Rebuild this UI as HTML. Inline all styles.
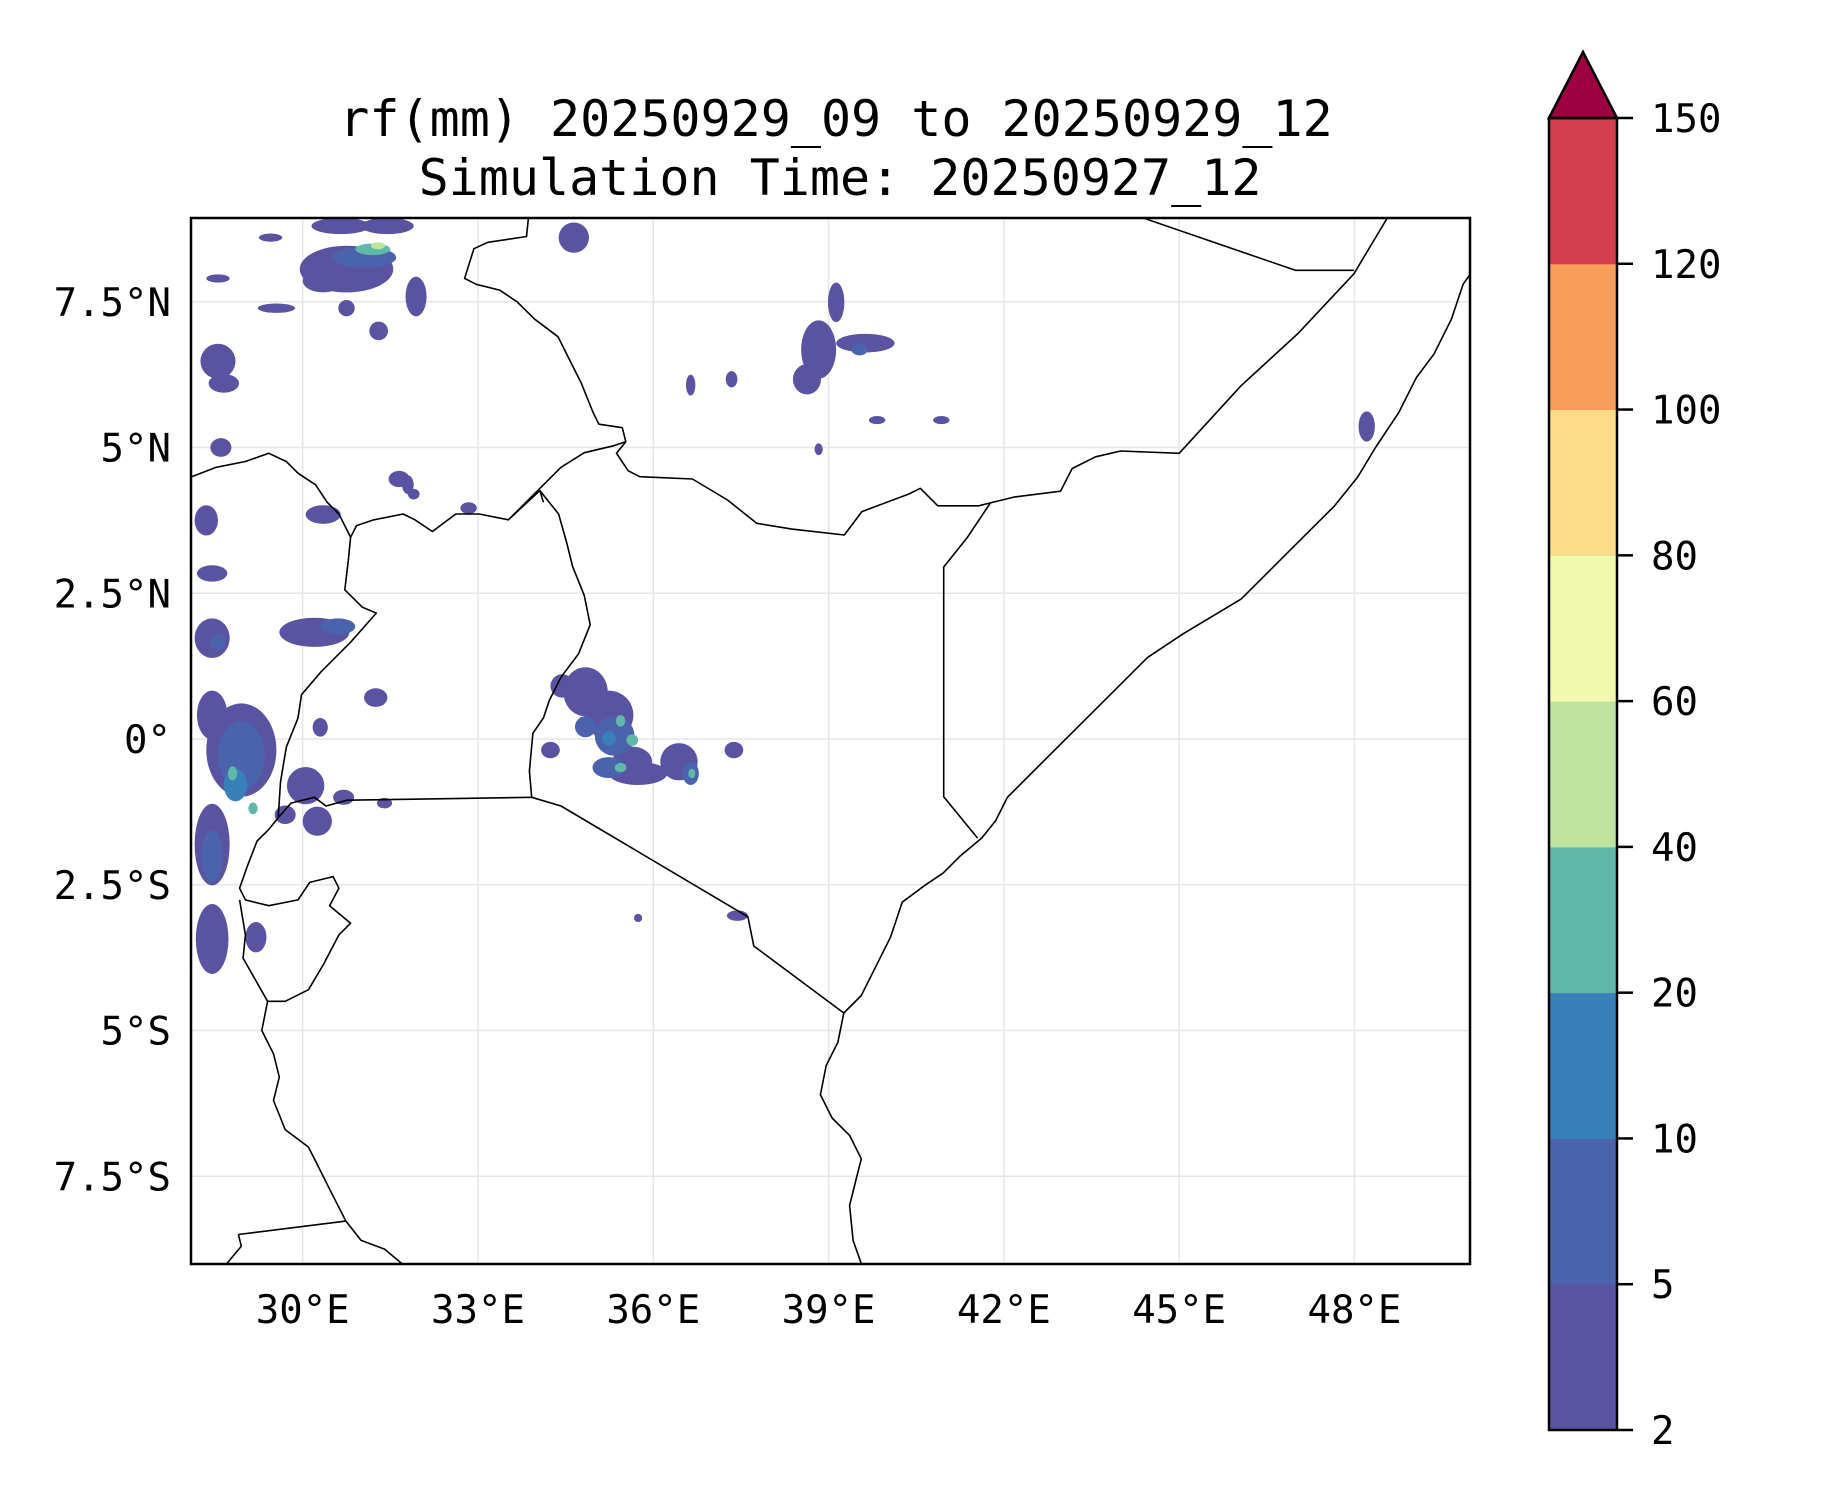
<!DOCTYPE html>
<html><head><meta charset="utf-8"><style>
html,body{margin:0;padding:0;background:#fff;}
svg{display:block;font-family:"DejaVu Sans Mono","Liberation Mono",monospace;}
</style></head><body>
<svg id="fig" width="1833" height="1500" viewBox="0 0 1833 1500" xmlns="http://www.w3.org/2000/svg">
<defs><clipPath id="axclip"><rect x="191" y="218" width="1279" height="1046"/></clipPath></defs>
<text x="836" y="136" font-size="50" text-anchor="middle">rf(mm) 20250929_09 to 20250929_12</text>
<text x="840" y="195" font-size="50" text-anchor="middle">Simulation Time: 20250927_12</text>
<g id="grid"></g>
<g id="rain" clip-path="url(#axclip)"></g>
<g id="borders" clip-path="url(#axclip)"></g>
<rect x="191" y="218" width="1279" height="1046" fill="none" stroke="#000" stroke-width="2.5"/>
<g id="xticks"></g>
<g id="yticks"></g>
<g id="cbar"></g>
</svg>
<script>
const lonTicks=[30,33,36,39,42,45,48];
const lonLabels=["30°E","33°E","36°E","39°E","42°E","45°E","48°E"];
const latTicks=[7.5,5,2.5,0,-2.5,-5,-7.5];
const latLabels=["7.5°N","5°N","2.5°N","0°","2.5°S","5°S","7.5°S"];
const levels=[2,5,10,20,40,60,80,100,120,150];
const levelColors=["#5a53a2","#4a63ac","#3880b9","#60b9a8","#bee4a0","#f1f9ae","#fcdc89","#f89e5a","#d53e4f"];
const extendColor="#9e0142";
// rainfall blobs: lon, lat, rx(deg), ry(deg), level index
const blobLon=[30.75,31.05,31.2,31.29,31.45,30.35,30.75,31.94,29.55,28.55,28.65,30.65,29.45,28.55,31.65,30.35,28.35,28.45,30.2,30.6,28.45,28.55,28.95,28.95,28.85,28.8,29.15,28.45,28.45,28.45,28.45,30.05,30.25,31.25,34.84,35.24,35.34,35.64,35.74,35.24,35.44,36.44,36.64,36.66,37.38,34.44,34.24,34.84,35.24,35.44,35.64,34.64,38.83,39.13,39.63,39.53,38.63,37.34,36.64,39.83,40.93,38.83,48.21,37.44,35.74,32.84,31.8,31.3,31.9,28.6,29.7,30.7,31.4,29.2,30.3];
const blobLat=[8.06,8.26,8.4,8.46,8.8,7.86,7.39,7.59,7.39,6.48,6.1,8.8,8.6,7.9,4.46,3.85,3.75,2.84,1.83,1.93,1.73,1.67,-0.19,-0.29,-0.79,-0.59,-1.19,0.41,-1.81,-2.01,-3.43,-0.8,-1.41,0.71,0.81,0.41,0.05,-0.39,-0.59,-0.49,-0.49,-0.39,-0.59,-0.59,-0.19,0.91,-0.19,0.21,0.01,0.31,-0.02,8.6,6.68,7.49,6.79,6.68,6.17,6.17,6.07,5.47,5.47,4.97,5.36,-3.03,-3.07,3.96,4.36,7.0,4.2,5.0,-1.3,-1.0,-1.1,-3.4,0.2];
const blobRx=[0.8,0.55,0.3,0.12,0.45,0.35,0.14,0.18,0.32,0.3,0.26,0.5,0.2,0.2,0.18,0.3,0.2,0.26,0.6,0.3,0.3,0.14,0.6,0.4,0.2,0.08,0.08,0.26,0.3,0.18,0.28,0.32,0.25,0.2,0.38,0.42,0.34,0.34,0.5,0.28,0.1,0.32,0.14,0.06,0.16,0.2,0.16,0.18,0.12,0.08,0.1,0.26,0.3,0.14,0.5,0.14,0.24,0.1,0.08,0.14,0.14,0.07,0.14,0.18,0.07,0.14,0.1,0.16,0.1,0.18,0.18,0.18,0.13,0.18,0.13];
const blobRy=[0.4,0.18,0.1,0.06,0.14,0.2,0.14,0.34,0.08,0.3,0.16,0.14,0.07,0.07,0.14,0.16,0.26,0.14,0.25,0.14,0.34,0.14,0.8,0.6,0.28,0.12,0.1,0.42,0.7,0.45,0.6,0.32,0.25,0.16,0.42,0.42,0.34,0.26,0.2,0.18,0.08,0.32,0.2,0.08,0.14,0.2,0.14,0.18,0.12,0.1,0.1,0.26,0.5,0.34,0.16,0.1,0.26,0.14,0.18,0.07,0.07,0.1,0.26,0.09,0.07,0.1,0.16,0.16,0.09,0.16,0.16,0.13,0.09,0.26,0.16];
const blobLevel=[0,1,3,4,0,0,0,0,0,0,0,0,0,0,0,0,0,0,0,1,0,1,0,1,2,3,3,0,0,1,0,0,0,0,0,0,1,0,0,1,3,0,1,3,0,0,0,1,2,3,3,0,0,0,0,1,0,0,0,0,0,0,0,0,0,0,0,0,0,0,0,0,0,0,0];
// coastline & border polylines in [lon,lat]
const lines=[
[[33.87,9.0],[33.83,8.62],[33.17,8.52],[32.93,8.41],[32.77,7.9],[32.97,7.8],[33.37,7.7],[33.67,7.5],[33.97,7.2],[34.37,6.9],[34.57,6.5],[34.77,6.1],[34.97,5.6],[35.07,5.4],[35.47,5.34],[35.53,5.1],[35.37,4.9],[35.57,4.6],[35.77,4.5],[36.67,4.46],[37.27,4.1],[37.77,3.7],[38.37,3.6],[39.27,3.5],[39.57,3.9],[40.37,4.2],[40.57,4.3],[40.87,4.0],[41.57,4.0],[41.77,4.05],[42.17,4.15],[42.97,4.25],[43.17,4.64],[43.57,4.84],[44.0,4.94],[45.0,4.9],[46.06,6.06],[47.05,6.97],[47.99,7.98],[48.6,9.0]],
[[44.2,9.0],[46.99,8.04],[47.99,8.04]],
[[50.0,8.0],[49.86,7.8],[49.66,7.2],[49.36,6.6],[49.06,6.2],[48.76,5.6],[48.36,5.0],[48.06,4.5],[47.66,4.0],[46.86,3.2],[46.06,2.4],[45.06,1.8],[44.46,1.4],[43.86,0.8],[43.26,0.2],[42.46,-0.6],[42.06,-1.0],[41.86,-1.4],[41.62,-1.7],[41.26,-2.0],[40.96,-2.3],[40.66,-2.5],[40.26,-2.8],[40.06,-3.4],[39.76,-4.0],[39.56,-4.4],[39.26,-4.7],[39.16,-5.2],[38.96,-5.6],[38.86,-6.1],[39.06,-6.5],[39.36,-6.8],[39.56,-7.2],[39.46,-7.6],[39.36,-8.0],[39.42,-8.6],[39.56,-9.0]],
[[41.77,4.05],[41.37,3.45],[40.97,2.95],[40.97,-0.99],[41.55,-1.7]],
[[33.92,-1.0],[34.42,-1.15],[37.62,-3.05],[37.72,-3.55],[39.26,-4.7]],
[[33.92,-1.0],[33.88,-0.55],[33.94,0.1],[34.12,0.36],[34.22,0.66],[34.42,1.06],[34.72,1.46],[34.92,1.96],[34.82,2.46],[34.62,2.96],[34.52,3.36],[34.38,3.86],[34.06,4.26],[33.52,3.76],[34.42,4.66],[34.82,4.91],[35.32,5.03],[35.53,5.1]],
[[34.06,4.26],[34.12,4.06]],
[[33.52,3.76],[33.02,3.86],[32.62,3.86],[32.22,3.56],[31.92,3.76],[31.72,3.86],[31.22,3.76],[30.92,3.66],[30.82,3.46]],
[[30.82,3.46],[30.78,3.06],[30.72,2.56],[31.02,2.26],[31.26,2.16],[30.82,1.66],[30.32,1.16],[29.98,0.76],[29.92,0.36],[29.72,-0.14],[29.62,-0.74],[29.58,-1.35]],
[[30.76,-1.05],[33.92,-1.0]],
[[29.58,-1.35],[29.42,-1.55],[29.22,-1.75],[29.06,-2.16],[28.92,-2.56],[29.02,-2.76],[29.42,-2.86],[29.92,-2.76],[30.12,-2.46],[30.52,-2.36],[30.62,-2.56],[30.46,-2.86],[30.82,-3.16],[30.62,-3.36],[30.36,-3.86],[30.1,-4.3],[29.7,-4.5],[29.4,-4.5]],
[[28.92,-2.76],[29.02,-3.36],[28.98,-3.76],[29.4,-4.5],[29.3,-5.0],[29.5,-5.4],[29.6,-5.8],[29.5,-6.2],[29.7,-6.7],[30.1,-7.0],[30.3,-7.4],[30.5,-7.8],[30.74,-8.27],[31.0,-8.6],[31.4,-8.75],[31.7,-9.0]],
[[28.9,-8.5],[30.74,-8.27]],
[[28.9,-8.5],[28.95,-8.7],[28.7,-9.0]],
[[28.1,4.5],[28.52,4.66],[29.02,4.76],[29.42,4.9],[29.72,4.76],[29.92,4.56],[30.22,4.36],[30.42,4.06],[30.62,3.86],[30.82,3.46]],
[[29.58,-1.35],[29.8,-1.1],[30.2,-1.0],[30.4,-1.15],[30.76,-1.05]]
];
const svgNS="http://www.w3.org/2000/svg";
const X0=302.7, PXLON=58.43, Y0=739, PXLAT=58.3;
function xOf(lon){return X0+(lon-30)*PXLON;}
function yOf(lat){return Y0-lat*PXLAT;}
function mk(tag,attrs,parent){const e=document.createElementNS(svgNS,tag);for(const k in attrs)e.setAttribute(k,attrs[k]);parent.appendChild(e);return e;}
const grid=document.getElementById('grid');
lonTicks.forEach(function(l){
  const ln=mk('line',{x1:xOf(l),x2:xOf(l),y1:218,y2:1264,stroke:'#e6e6e6','stroke-width':1.5},grid);
  
  
});
latTicks.forEach(function(l){
  const ln=mk('line',{x1:191,x2:1470,y1:yOf(l),y2:yOf(l),stroke:'#e6e6e6','stroke-width':1.5},grid);
  
  
});
const rain=document.getElementById('rain');
const order=blobLon.map(function(_,i){return i;}).sort(function(a,b){return blobLevel[a]-blobLevel[b];});
order.forEach(function(i){
  const e=mk('ellipse',{cx:xOf(blobLon[i]),cy:yOf(blobLat[i]),rx:blobRx[i]*PXLON,ry:blobRy[i]*PXLAT,fill:levelColors[blobLevel[i]]},rain);
  
  
});
const borders=document.getElementById('borders');
lines.forEach(function(pts){
  const p=mk('polyline',{points:pts.map(function(q){return xOf(q[0]).toFixed(1)+','+yOf(q[1]).toFixed(1);}).join(' '),fill:'none',stroke:'#000','stroke-width':1.6,'stroke-linejoin':'round'},borders);
  
  
});
const xt=document.getElementById('xticks');
lonTicks.forEach(function(l,i){
  const t=mk('text',{x:xOf(l),y:1323,'font-size':39,'text-anchor':'middle'},xt);
  t.textContent=lonLabels[i];
  
  
});
const yt=document.getElementById('yticks');
latTicks.forEach(function(l,i){
  const t=mk('text',{x:171,y:yOf(l)+14,'font-size':39,'text-anchor':'end'},yt);
  t.textContent=latLabels[i];
  
  
});
const cb=document.getElementById('cbar');
const CBL=1549, CBR=1617, CBT=118, CBB=1430, n=levels.length-1, step=(CBB-CBT)/n;
for(let i=0;i<n;i++){
  const r=mk('rect',{x:CBL,y:CBB-(i+1)*step,width:CBR-CBL,height:step+0.5,fill:levelColors[i]},cb);
  
  
}
const tri=mk('polygon',{points:CBL+','+CBT+' '+((CBL+CBR)/2)+',52 '+CBR+','+CBT,fill:extendColor,stroke:'#000','stroke-width':2.5},cb);


const fr=mk('rect',{x:CBL,y:CBT,width:CBR-CBL,height:CBB-CBT,fill:'none',stroke:'#000','stroke-width':2.5},cb);


levels.forEach(function(v,i){
  const y=CBB-i*step;
  const tk=mk('line',{x1:CBR,x2:CBR+16,y1:y,y2:y,stroke:'#000','stroke-width':2.5},cb);
  
  
  const t=mk('text',{x:CBR+34,y:y+14,'font-size':39},cb);
  t.textContent=String(v);
  
  
});
</script>
</body></html>
